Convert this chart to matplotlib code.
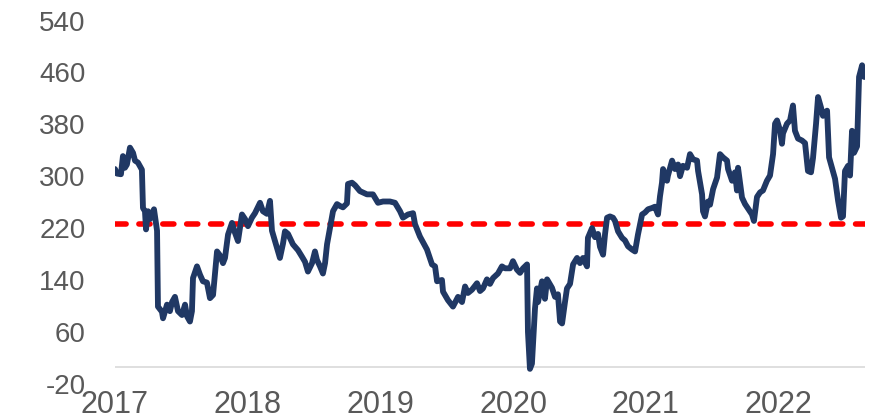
import numpy as np
import matplotlib
matplotlib.use("Agg")
import matplotlib.pyplot as plt
import matplotlib.transforms as mtransforms

# time axis in decimal years (2017.0 = start of 2017)
years = np.array([
    2017.000, 2017.015, 2017.045, 2017.060, 2017.075, 2017.090, 2017.113, 2017.136,
    2017.151, 2017.173, 2017.203, 2017.211, 2017.226, 2017.234, 2017.249, 2017.264,
    2017.279, 2017.294, 2017.317, 2017.324, 2017.354, 2017.362, 2017.392, 2017.414,
    2017.430, 2017.452, 2017.475, 2017.505, 2017.528, 2017.543, 2017.565, 2017.580,
    2017.588, 2017.618, 2017.641, 2017.663, 2017.693, 2017.716, 2017.739, 2017.769,
    2017.791, 2017.814, 2017.829, 2017.852, 2017.882, 2017.904, 2017.927, 2017.957,
    2017.980, 2018.002, 2018.032, 2018.055, 2018.093, 2018.115, 2018.145, 2018.168,
    2018.183, 2018.206, 2018.243, 2018.266, 2018.281, 2018.304, 2018.341, 2018.379,
    2018.409, 2018.432, 2018.454, 2018.485, 2018.507, 2018.522, 2018.545, 2018.567,
    2018.583, 2018.598, 2018.620, 2018.643, 2018.673, 2018.696, 2018.718, 2018.748,
    2018.756, 2018.786, 2018.809, 2018.846, 2018.899, 2018.944, 2018.982, 2019.020,
    2019.072, 2019.110, 2019.148, 2019.170, 2019.208, 2019.246, 2019.261, 2019.298,
    2019.351, 2019.389, 2019.412, 2019.427, 2019.464, 2019.472, 2019.509, 2019.547,
    2019.585, 2019.615, 2019.638, 2019.660, 2019.690, 2019.728, 2019.751, 2019.773,
    2019.803, 2019.826, 2019.849, 2019.886, 2019.916, 2019.939, 2019.977, 2019.999,
    2020.029, 2020.052, 2020.075, 2020.105, 2020.112, 2020.127, 2020.142, 2020.165,
    2020.180, 2020.188, 2020.218, 2020.240, 2020.256, 2020.293, 2020.316, 2020.338,
    2020.354, 2020.369, 2020.391, 2020.406, 2020.429, 2020.452, 2020.482, 2020.504,
    2020.527, 2020.557, 2020.564, 2020.595, 2020.617, 2020.640, 2020.655, 2020.678,
    2020.693, 2020.708, 2020.730, 2020.753, 2020.768, 2020.791, 2020.821, 2020.843,
    2020.866, 2020.896, 2020.919, 2020.941, 2020.972, 2020.994, 2021.017, 2021.047,
    2021.069, 2021.092, 2021.107, 2021.122, 2021.130, 2021.160, 2021.167, 2021.198,
    2021.220, 2021.243, 2021.258, 2021.280, 2021.311, 2021.333, 2021.356, 2021.386,
    2021.394, 2021.424, 2021.431, 2021.446, 2021.469, 2021.484, 2021.507, 2021.537,
    2021.559, 2021.582, 2021.612, 2021.620, 2021.650, 2021.672, 2021.687, 2021.695,
    2021.725, 2021.748, 2021.800, 2021.815, 2021.838, 2021.861, 2021.883, 2021.913,
    2021.936, 2021.959, 2021.974, 2021.989, 2022.011, 2022.026, 2022.034, 2022.064,
    2022.087, 2022.109, 2022.124, 2022.147, 2022.177, 2022.200, 2022.222, 2022.245,
    2022.260, 2022.283, 2022.298, 2022.320, 2022.335, 2022.366, 2022.381, 2022.403,
    2022.426, 2022.449, 2022.471, 2022.486, 2022.501, 2022.524, 2022.539, 2022.554,
    2022.569, 2022.592, 2022.607, 2022.630, 2022.645, 2022.652,
])

values = np.array([
    305, 298, 297, 325, 307, 312, 338, 330,
    318, 315, 304, 245, 240, 212, 240, 228,
    236, 243, 210, 93, 85, 75, 96, 86,
    100, 108, 86, 80, 96, 78, 70, 86,
    137, 155, 142, 132, 130, 106, 111, 178,
    172, 160, 168, 204, 222, 207, 194, 235,
    228, 217, 230, 237, 253, 240, 236, 256,
    210, 194, 168, 190, 209, 205, 189, 180,
    170, 162, 147, 160, 178, 165, 155, 144,
    160, 189, 214, 240, 251, 248, 246, 252,
    282, 284, 280, 271, 266, 266, 253, 255,
    255, 253, 240, 230, 235, 237, 220, 201,
    181, 158, 155, 132, 134, 116, 103, 93,
    108, 100, 124, 114, 119, 129, 117, 121,
    135, 128, 137, 144, 155, 152, 152, 163,
    150, 145, 152, 158, 54, -3, 5, 90,
    121, 100, 132, 105, 135, 122, 108, 112,
    70, 67, 100, 121, 128, 158, 168, 160,
    168, 155, 199, 214, 200, 205, 185, 173,
    205, 230, 232, 230, 225, 209, 199, 195,
    186, 181, 178, 204, 235, 238, 243, 245,
    247, 235, 263, 284, 305, 287, 295, 318,
    305, 312, 294, 310, 307, 328, 320, 318,
    302, 266, 240, 232, 255, 250, 274, 292,
    328, 323, 318, 305, 287, 300, 272, 307,
    261, 251, 235, 225, 262, 269, 272, 287,
    295, 328, 375, 380, 365, 344, 360, 375,
    380, 403, 364, 352, 349, 345, 302, 300,
    322, 375, 416, 400, 387, 395, 323, 307,
    290, 256, 230, 232, 302, 310, 295, 364,
    330, 340, 447, 465, 447, 447,
])

threshold = 220
y_ticks = [-20, 60, 140, 220, 300, 380, 460, 540]
year_ticks = [2017, 2018, 2019, 2020, 2021, 2022]

text_color = "#595959"
plt.rcParams["font.family"] = ["Liberation Sans", "DejaVu Sans"]
plt.rcParams["axes.unicode_minus"] = False

fig = plt.figure(figsize=(8.75, 4.19), dpi=100)
ax = fig.add_axes([0.1314, 0.0933, 0.8572, 0.8671])

# zero line
ax.axhline(0, color="#D9D9D9", lw=1.2, zorder=1)
ax.plot(years, values, color="#203864", lw=4.2, solid_joinstyle="round",
        solid_capstyle="round", zorder=3)
ax.axhline(threshold, color="#FF0000", lw=4, dashes=(2.0, 2.3),
           dash_capstyle="round", zorder=2)

ax.set_xlim(2017, 2022.652)
ax.set_ylim(-20, 540)
ax.set_yticks(y_ticks)
ax.set_xticks(year_ticks)
ax.set_xticklabels([str(y) for y in year_ticks])

for s in ax.spines.values():
    s.set_visible(False)
ax.tick_params(axis="both", length=0, colors=text_color)
ax.tick_params(axis="y", labelsize=20, pad=21)
ax.tick_params(axis="x", labelsize=22, pad=7)

# nudge y labels down slightly, as in the original
off = mtransforms.ScaledTranslation(0, -4 / 100, fig.dpi_scale_trans)
for lab in ax.get_yticklabels():
    lab.set_transform(lab.get_transform() + off)

fig.savefig("out.png", dpi=100)
